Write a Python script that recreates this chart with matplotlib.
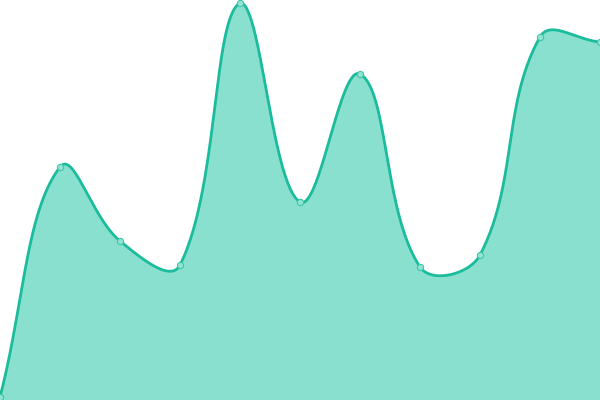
import numpy as np
import matplotlib.pyplot as plt

# valeurs (hauteur en pixels depuis le bas)
x_vals = [0, 60, 120, 180, 240, 300, 360, 420, 480, 540, 600]
y_vals = [3, 233, 159, 135, 397, 198, 326, 133, 145, 363, 358]

line_color = '#1abc9c'
fill_color = '#89e0cf'
tension = 0.4


def controles(x, y, t):
    # points de controle façon spline Chart.js
    n = len(x)
    avant = []
    apres = []
    for i in range(n):
        p0 = np.array([x[max(i - 1, 0)], y[max(i - 1, 0)]], float)
        p1 = np.array([x[i], y[i]], float)
        p2 = np.array([x[min(i + 1, n - 1)], y[min(i + 1, n - 1)]], float)
        d01 = np.hypot(*(p1 - p0))
        d12 = np.hypot(*(p2 - p1))
        tot = d01 + d12
        s01 = d01 / tot if tot else 0
        s12 = d12 / tot if tot else 0
        c_av = p1 - t * s01 * (p2 - p0)
        c_ap = p1 + t * s12 * (p2 - p0)
        c_av[1] = np.clip(c_av[1], 0, 400)
        c_ap[1] = np.clip(c_ap[1], 0, 400)
        avant.append(c_av)
        apres.append(c_ap)
    return avant, apres


avant, apres = controles(x_vals, y_vals, tension)
u = np.linspace(0, 1, 60)[:, None]
courbe = []
for i in range(len(x_vals) - 1):
    a = np.array([x_vals[i], y_vals[i]], float)
    b = apres[i]
    c = avant[i + 1]
    d = np.array([x_vals[i + 1], y_vals[i + 1]], float)
    seg = (1 - u) ** 3 * a + 3 * (1 - u) ** 2 * u * b + 3 * (1 - u) * u ** 2 * c + u ** 3 * d
    courbe.append(seg if i == 0 else seg[1:])
courbe = np.vstack(courbe)

fig = plt.figure(figsize=(6, 4), dpi=100)
ax = fig.add_axes([0, 0, 1, 1])
ax.fill_between(courbe[:, 0], 0, courbe[:, 1], color=fill_color, linewidth=0)
ax.plot(courbe[:, 0], courbe[:, 1], color=line_color, linewidth=2.0, solid_capstyle='round')
ax.plot(x_vals, y_vals, 'o', markersize=4.5, markerfacecolor='#92e3d3',
        markeredgecolor='#3cc7aa', markeredgewidth=0.8, clip_on=False)
ax.set_xlim(0, 600)
ax.set_ylim(0, 400)
ax.axis('off')
fig.savefig('out.png', dpi=100)
